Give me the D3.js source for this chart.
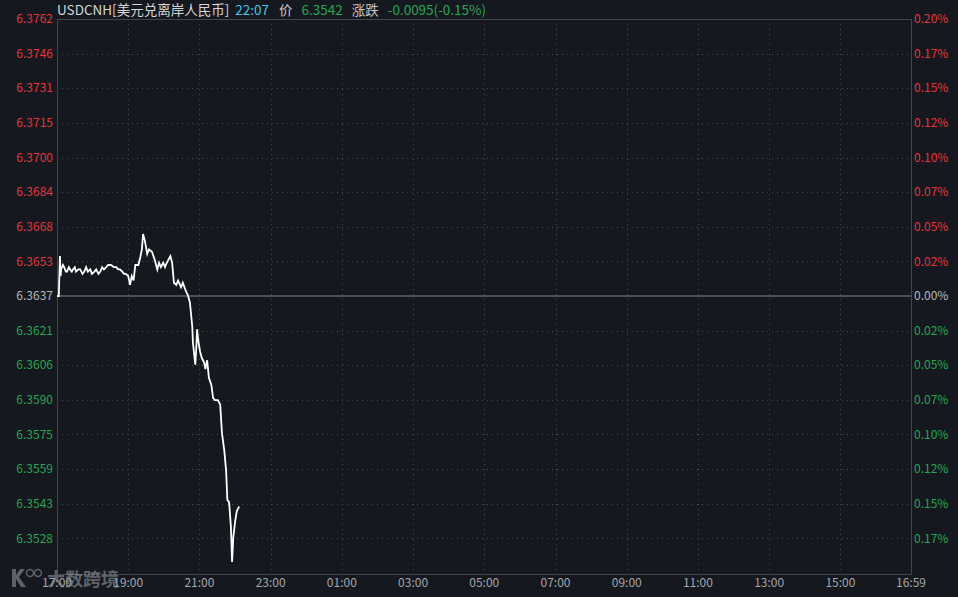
<!DOCTYPE html>
<html><head><meta charset="utf-8">
<script src="https://cdn.jsdelivr.net/npm/d3@7/dist/d3.min.js"></script>
<style>
html,body{margin:0;padding:0;background:#15181e;}
svg{display:block;}
text{font-family:"Noto Sans CJK SC","Noto Sans",sans-serif;}
</style></head>
<body>
<svg id="chart" width="958" height="597"></svg>
<script>
// ---- data ----
const times = ["17:00","17:03","17:05","17:06","17:07","17:10","17:12","17:15","17:17","17:20","17:22","17:25","17:27","17:30","17:32","17:36","17:39","17:43","17:46","17:49","17:52","17:56","17:59","18:03","18:06","18:10","18:13","18:16","18:19","18:23","18:26","18:31","18:36","18:40","18:43","18:46","18:50","18:53","18:56","19:00","19:03","19:06","19:09","19:12","19:17","19:20","19:23","19:25","19:28","19:32","19:35","19:40","19:45","19:49","19:52","19:55","19:59","20:02","20:05","20:11","20:14","20:17","20:21","20:24","20:29","20:32","20:36","20:41","20:44","20:48","20:49","20:53","20:55","20:56","20:58","21:01","21:04","21:08","21:10","21:13","21:16","21:20","21:23","21:26","21:31","21:35","21:38","21:42","21:45","21:47","21:50","21:53","21:55","21:57","22:00","22:03","22:07"];
const prices = [6.3637,6.3637,6.3655,6.3646,6.3649,6.3651,6.3650,6.3648,6.3648,6.3650,6.3649,6.3648,6.3649,6.3650,6.3648,6.3649,6.3649,6.3647,6.3648,6.3650,6.3648,6.3649,6.3647,6.3648,6.3649,6.3647,6.3648,6.3650,6.3649,6.3650,6.3651,6.3651,6.3650,6.3650,6.3649,6.3649,6.3648,6.3647,6.3647,6.3646,6.3642,6.3646,6.3644,6.3651,6.3651,6.3654,6.3658,6.3665,6.3662,6.3656,6.3658,6.3657,6.3653,6.3649,6.3652,6.3650,6.3652,6.3650,6.3652,6.3655,6.3652,6.3643,6.3642,6.3644,6.3641,6.3643,6.3640,6.3637,6.3634,6.3623,6.3616,6.3606,6.3615,6.3622,6.3617,6.3612,6.3609,6.3607,6.3604,6.3608,6.3600,6.3597,6.3591,6.3590,6.3590,6.3588,6.3575,6.3567,6.3558,6.3545,6.3544,6.3533,6.3517,6.3528,6.3535,6.3540,6.3542];
const prevClose = 6.3637;
const priceTicks = ["6.3762","6.3746","6.3731","6.3715","6.3700","6.3684","6.3668","6.3653","6.3637","6.3621","6.3606","6.3590","6.3575","6.3559","6.3543","6.3528"];
const pctTicks = ["0.20%","0.17%","0.15%","0.12%","0.10%","0.07%","0.05%","0.02%","0.00%","0.02%","0.05%","0.07%","0.10%","0.12%","0.15%","0.17%"];
const timeTicks = ["17:00","19:00","21:00","23:00","01:00","03:00","05:00","07:00","09:00","11:00","13:00","15:00","16:59"];
const header = {name:"USDCNH[美元兑离岸人民币]", time:"22:07", priceLabel:"价", price:"6.3542", chgLabel:"涨跌", chg:"-0.0095(-0.15%)"};

// ---- layout ----
const W = 958, H = 597;
const L = 57, R = 911, T = 19, B = 573;
const RED = "#e3363b", GREEN = "#27a553", GREY = "#b4b8bf";

const svg = d3.select("#chart");
svg.append("rect").attr("width",W).attr("height",H).attr("fill","#15181e");

function toDate(s){
  const [h,m] = s.split(":").map(Number);
  const day = h >= 17 ? 1 : 2;
  return new Date(2021,0,day,h,m);
}
const x = d3.scaleTime().domain([toDate("17:00"), toDate("16:59")]).range([L, R]);
const yMax = +priceTicks[0];
const step = (yMax - prevClose)/8;
const yMin = prevClose - 8*step;
const y = d3.scaleLinear().domain([yMin, yMax]).range([B, T]);

// grid lines
const g = svg.append("g");
priceTicks.forEach((t,i)=>{
  if(i===0 || i===8) return;
  const yy = Math.round(y(prevClose + (8-i)*step))+0.5;
  g.append("line").attr("x1",L).attr("x2",R).attr("y1",yy).attr("y2",yy)
    .attr("stroke","#454a53").attr("stroke-width",1).attr("stroke-dasharray","1,4");
});
timeTicks.forEach((t,i)=>{
  if(i===0 || i===timeTicks.length-1) return;
  const xx = Math.round(x(toDate(t)))+0.5;
  g.append("line").attr("x1",xx).attr("x2",xx).attr("y1",T).attr("y2",B+1)
    .attr("stroke","#454a53").attr("stroke-width",1).attr("stroke-dasharray","1,4");
});
g.append("line").attr("x1",L).attr("x2",R).attr("y1",y(prevClose)).attr("y2",y(prevClose))
  .attr("stroke","#4b4f57").attr("stroke-width",2);
g.append("rect").attr("x",L+0.5).attr("y",T+0.5).attr("width",R-L).attr("height",B+1-T)
  .attr("fill","none").attr("stroke","#41454d").attr("stroke-width",1);

// left axis labels
priceTicks.forEach((t,i)=>{
  const v = prevClose + (8-i)*step;
  const col = i<8 ? RED : (i===8 ? GREY : GREEN);
  svg.append("text").attr("x",53).attr("y",y(v)).attr("dy","0.35em")
    .attr("text-anchor","end").attr("font-size",12).attr("fill",col).text(t);
});
// right axis labels
pctTicks.forEach((t,i)=>{
  const v = prevClose + (8-i)*step;
  const col = i<8 ? RED : (i===8 ? GREY : GREEN);
  svg.append("text").attr("x",914).attr("y",y(v)).attr("dy","0.35em")
    .attr("text-anchor","start").attr("font-size",12).attr("fill",col).text(t);
});
// bottom labels
timeTicks.forEach((t)=>{
  svg.append("text").attr("x",x(toDate(t))).attr("y",583).attr("dy","0.35em")
    .attr("text-anchor","middle").attr("font-size",12).attr("fill","#a3a7ae").text(t);
});

// price line
const data = times.map((t,i)=>({t:toDate(t), v:prices[i]}));
const line = d3.line().x(d=>x(d.t)).y(d=>y(d.v)).curve(d3.curveLinear);
svg.append("path").datum(data).attr("d",line).attr("fill","none")
  .attr("stroke","#ffffff").attr("stroke-width",1.8).attr("stroke-linejoin","miter");

// header
const hdr = svg.append("text").attr("x",57).attr("y",10).attr("dy","0.35em").attr("font-size",13.5);
hdr.append("tspan").attr("fill","#d4d6da").text(header.name);
hdr.append("tspan").attr("dx",6).attr("fill","#45c3e6").text(header.time);
hdr.append("tspan").attr("dx",10).attr("fill","#c4c7cc").text(header.priceLabel);
hdr.append("tspan").attr("dx",9).attr("fill",GREEN).text(header.price);
hdr.append("tspan").attr("dx",9).attr("fill","#c4c7cc").text(header.chgLabel);
hdr.append("tspan").attr("dx",9).attr("fill",GREEN).text(header.chg);

// watermark
const wm = svg.append("g").attr("opacity",0.55);
wm.append("path").attr("d","M12,569 L12,587 L16,587 L16,579 L21,587 L26,587 L19,577 L25,569 L20,569 L16,575 L16,569 Z")
  .attr("fill","#9aa0a8");
wm.append("circle").attr("cx",30).attr("cy",573).attr("r",3.5).attr("fill","none").attr("stroke","#9aa0a8").attr("stroke-width",1.5);
wm.append("circle").attr("cx",38).attr("cy",573).attr("r",3.5).attr("fill","none").attr("stroke","#9aa0a8").attr("stroke-width",1.5);
wm.append("text").attr("x",47).attr("y",580).attr("dy","0.35em").attr("font-size",18).attr("font-weight","bold")
  .attr("fill","#9aa0a8").text("大数跨境");
</script>
</body></html>
